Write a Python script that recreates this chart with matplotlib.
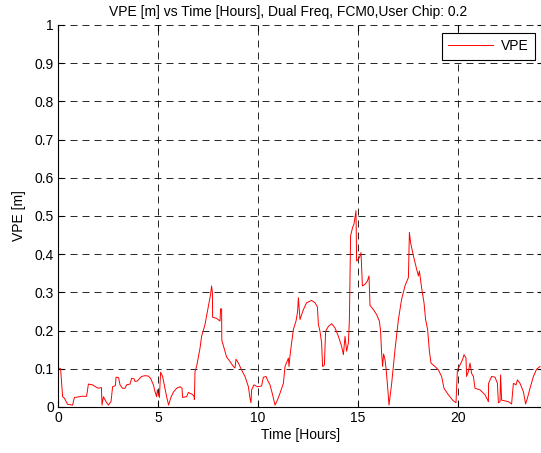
import matplotlib
matplotlib.use('Agg')
import matplotlib.pyplot as plt
from matplotlib.ticker import MultipleLocator, FuncFormatter

plt.rcParams['font.family'] = ['Liberation Sans', 'DejaVu Sans']

# VPE samples over the day
hours = [0.00, 0.13, 0.23, 0.32, 0.48, 0.73, 0.82, 0.98, 1.15, 1.43, 1.52, 1.73, 1.87, 2.03, 2.17, 2.20,
         2.27, 2.40, 2.52, 2.65, 2.73, 2.87, 2.90, 3.03, 3.10, 3.23, 3.35, 3.43, 3.60, 3.68, 3.80, 3.85,
         3.97, 4.07, 4.18, 4.35, 4.52, 4.63, 4.77, 4.85, 4.93, 4.97, 5.02, 5.07, 5.13, 5.23, 5.35, 5.43,
         5.53, 5.63, 5.77, 5.93, 6.10, 6.20, 6.23, 6.43, 6.52, 6.68, 6.80, 6.82, 6.85, 6.93, 7.10, 7.18,
         7.35, 7.52, 7.63, 7.68, 7.72, 7.73, 7.93, 8.10, 8.13, 8.18, 8.19, 8.35, 8.43, 8.60, 8.77, 8.85,
         8.90, 9.02, 9.18, 9.35, 9.52, 9.60, 9.65, 9.68, 9.80, 9.97, 10.18, 10.27, 10.40, 10.47, 10.60, 10.73,
         10.85, 10.97, 11.10, 11.27, 11.35, 11.52, 11.55, 11.60, 11.68, 11.77, 11.90, 11.98, 12.02, 12.10, 12.27, 12.43,
         12.68, 12.85, 12.97, 13.02, 13.10, 13.18, 13.23, 13.32, 13.38, 13.52, 13.68, 13.85, 14.02, 14.18, 14.27, 14.35,
         14.43, 14.52, 14.57, 14.63, 14.73, 14.80, 14.85, 14.90, 14.93, 15.07, 15.15, 15.22, 15.35, 15.47, 15.55, 15.60,
         15.77, 15.93, 16.07, 16.13, 16.18, 16.23, 16.28, 16.35, 16.40, 16.47, 16.55, 16.68, 16.85, 17.02, 17.18, 17.35,
         17.52, 17.57, 17.63, 17.77, 17.93, 18.02, 18.07, 18.18, 18.30, 18.38, 18.48, 18.57, 18.65, 18.85, 19.02, 19.18,
         19.30, 19.52, 19.73, 19.90, 19.97, 20.10, 20.23, 20.30, 20.40, 20.43, 20.52, 20.60, 20.68, 20.77, 20.85, 21.10,
         21.35, 21.52, 21.53, 21.68, 21.85, 21.97, 22.02, 22.10, 22.13, 22.18, 22.35, 22.52, 22.68, 22.77, 22.90, 22.97,
         23.10, 23.27, 23.38, 23.47, 23.60, 23.77, 23.93, 24.10]
vpe = [0.103, 0.100, 0.027, 0.023, 0.007, 0.005, 0.025, 0.026, 0.028, 0.028, 0.060, 0.058, 0.053, 0.049, 0.051, 0.005,
       0.027, 0.014, 0.005, 0.014, 0.053, 0.056, 0.078, 0.077, 0.058, 0.049, 0.049, 0.058, 0.060, 0.075, 0.074, 0.067,
       0.068, 0.074, 0.080, 0.082, 0.081, 0.075, 0.058, 0.040, 0.027, 0.045, 0.033, 0.025, 0.091, 0.080, 0.049, 0.027,
       0.005, 0.023, 0.039, 0.049, 0.053, 0.049, 0.025, 0.027, 0.038, 0.034, 0.029, 0.020, 0.093, 0.106, 0.154, 0.185,
       0.216, 0.264, 0.295, 0.317, 0.299, 0.235, 0.232, 0.225, 0.257, 0.257, 0.175, 0.146, 0.131, 0.119, 0.106, 0.102,
       0.125, 0.115, 0.097, 0.080, 0.053, 0.023, 0.011, 0.045, 0.058, 0.053, 0.055, 0.078, 0.080, 0.071, 0.058, 0.032,
       0.005, 0.018, 0.036, 0.062, 0.106, 0.128, 0.106, 0.134, 0.168, 0.203, 0.225, 0.250, 0.286, 0.229, 0.255, 0.273,
       0.279, 0.273, 0.262, 0.216, 0.198, 0.168, 0.106, 0.110, 0.198, 0.211, 0.218, 0.207, 0.185, 0.159, 0.137, 0.185,
       0.146, 0.168, 0.229, 0.448, 0.470, 0.479, 0.497, 0.514, 0.382, 0.391, 0.404, 0.317, 0.321, 0.330, 0.343, 0.266,
       0.255, 0.242, 0.225, 0.198, 0.141, 0.106, 0.139, 0.124, 0.102, 0.060, 0.005, 0.060, 0.150, 0.229, 0.282, 0.317,
       0.339, 0.457, 0.430, 0.396, 0.361, 0.343, 0.356, 0.312, 0.273, 0.229, 0.203, 0.146, 0.115, 0.106, 0.097, 0.080,
       0.049, 0.032, 0.018, 0.011, 0.097, 0.110, 0.124, 0.137, 0.128, 0.080, 0.093, 0.115, 0.088, 0.080, 0.049, 0.045,
       0.032, 0.014, 0.062, 0.080, 0.078, 0.062, 0.011, 0.014, 0.084, 0.018, 0.016, 0.014, 0.008, 0.062, 0.058, 0.071,
       0.062, 0.040, 0.008, 0.023, 0.049, 0.080, 0.099, 0.106]

fig = plt.figure(figsize=(5.41, 4.53), dpi=100)
ax = fig.add_axes([58 / 541, 46 / 453, 485 / 541, 382 / 453])

ax.plot(hours, vpe, color='#ff0000', linewidth=0.7, label='VPE')

ax.set_xlim(0, 24.25)
ax.set_ylim(0, 1)
ax.xaxis.set_major_locator(MultipleLocator(5))
ax.yaxis.set_major_locator(MultipleLocator(0.1))
ax.yaxis.set_major_formatter(FuncFormatter(lambda v, pos: '%g' % round(v, 1)))
ax.tick_params(direction='in', length=4, width=0.8, labelsize=10, top=True, right=True, pad=3)

# dashed black grid, MATLAB style (dash lengths scale with linewidth)
ax.grid(True, color='black', linestyle=(0, (8.4, 6)), linewidth=0.6)
ax.spines['top'].set_visible(False)
for s in ['left', 'bottom']:
    ax.spines[s].set_linewidth(0.8)

ax.set_xlabel('Time [Hours]', fontsize=10, labelpad=2)
ax.set_ylabel('VPE [m]', fontsize=10, labelpad=6)
fig.text(288 / 541, 1 - 12 / 453, 'VPE [m] vs Time [Hours], Dual Freq, FCM0,User Chip: 0.2',
         ha='center', va='center', fontsize=10)

leg = ax.legend(loc='upper right', bbox_to_anchor=(535 / 541, 1 - 33 / 453), bbox_transform=fig.transFigure,
                fontsize=10, fancybox=False, framealpha=1, edgecolor='black', borderpad=0.45,
                handlelength=3.2, handletextpad=0.6, borderaxespad=0)
leg.get_frame().set_linewidth(0.8)

fig.savefig('out.png', dpi=100)
